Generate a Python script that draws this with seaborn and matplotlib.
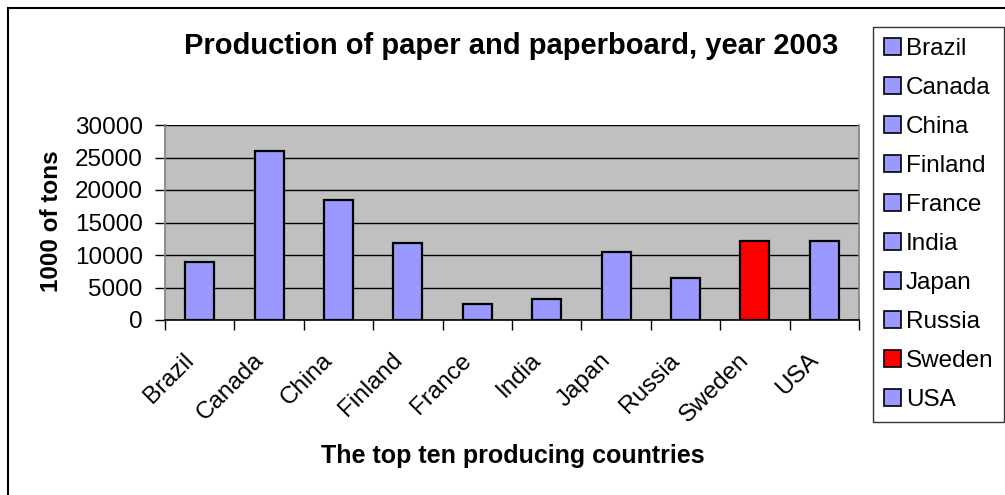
import matplotlib
matplotlib.use("Agg")
import matplotlib.pyplot as plt
import matplotlib.patches as mpatches
import matplotlib.transforms as mtransforms
import seaborn as sns
import pandas as pd

countries = ["Brazil", "Canada", "China", "Finland", "France", "India",
             "Japan", "Russia", "Sweden", "USA"]
production = [8900, 26000, 18400, 11900, 2500, 3200, 10500, 6500, 12100, 12100]
colors = ["#9999FF"] * 8 + ["#FF0000", "#9999FF"]
yticks = [0, 5000, 10000, 15000, 20000, 25000, 30000]

title = "Production of paper and paperboard, year 2003"
xlabel = "The top ten producing countries"
ylabel = "1000 of tons"

sns.set_theme(style="white")
plt.rcParams["font.family"] = ["Liberation Sans", "DejaVu Sans"]
plt.rcParams["text.color"] = "black"
plt.rcParams["xtick.color"] = "black"
plt.rcParams["ytick.color"] = "black"

df = pd.DataFrame({"country": countries, "value": production})
palette = dict(zip(countries, colors))

fig = plt.figure(figsize=(10.05, 4.95), dpi=100)
ax = fig.add_axes([165 / 1005, 1 - 320 / 495, (859 - 165) / 1005, (320 - 125) / 495])
ax.set_facecolor("#C0C0C0")

sns.barplot(data=df, x="country", y="value", hue="country", palette=palette,
            width=0.42, edgecolor="black", linewidth=1.6, legend=False,
            saturation=1, ax=ax, zorder=3)

ax.set_ylim(0, 30000)
ax.set_xlim(-0.5, len(countries) - 0.5)
ax.set_yticks(yticks)
ax.set_yticklabels([str(v) for v in yticks], fontsize=17.5, color="black")
ax.yaxis.grid(True, color="black", linewidth=1.0, zorder=1)
ax.set_axisbelow(True)

# ticks at category boundaries
ax.set_xticks([i - 0.5 for i in range(len(countries) + 1)])
ax.set_xticklabels([])
ax.tick_params(axis="x", direction="out", length=7, width=1, color="black", bottom=True)
ax.tick_params(axis="y", direction="out", length=7, width=1, color="black", pad=9, left=True)

offset = mtransforms.ScaledTranslation(-9 / 100, -37 / 100, fig.dpi_scale_trans)
for i, c in enumerate(countries):
    ax.text(i, 0, c, transform=ax.get_xaxis_transform() + offset, rotation=45,
            rotation_mode="anchor", ha="right", va="center", fontsize=17.5, color="black")

ax.spines["top"].set_visible(False)
ax.spines["left"].set_color("#808080")
ax.spines["right"].set_color("#808080")
ax.spines["bottom"].set_color("black")
for s in ax.spines.values():
    s.set_linewidth(1.2)

ax.set_xlabel("")
ax.set_ylabel("")
fig.text(511 / 1005, 1 - 54 / 495, title, ha="center", va="baseline", fontsize=21,
         fontweight="bold", color="black")
fig.text(513 / 1005, 1 - 463 / 495, xlabel, ha="center", va="baseline", fontsize=18,
         fontweight="bold", color="black")
fig.text(52 / 1005, 1 - 221 / 495, ylabel, ha="center", va="center", fontsize=17.5,
         fontweight="bold", rotation=90, color="black")

handles = [mpatches.Patch(facecolor=palette[c], edgecolor="black", linewidth=1.2) for c in countries]
leg = fig.legend(handles, countries, loc="upper left",
                 bbox_to_anchor=(873 / 1005, 1 - 27 / 495), fontsize=17.5,
                 frameon=True, fancybox=False, edgecolor="black",
                 handlelength=0.7, handleheight=0.7, handletextpad=0.2,
                 labelspacing=0.7, borderpad=0.45, borderaxespad=0)
leg.get_frame().set_linewidth(1.0)
for t in leg.get_texts():
    t.set_color("black")

border = mpatches.Rectangle((8 / 1005, -0.1), 1.2, 1 - 8 / 495 + 0.1,
                            transform=fig.transFigure, fill=False,
                            edgecolor="black", linewidth=1.5)
fig.patches.append(border)

fig.savefig("out.png", dpi=100)
